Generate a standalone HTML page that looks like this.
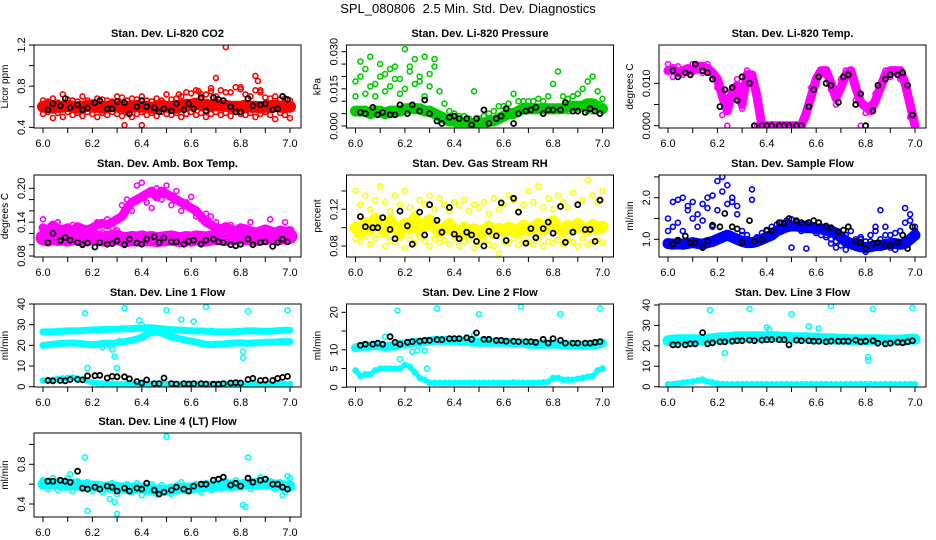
<!DOCTYPE html>
<html><head><meta charset="utf-8"><title>SPL_080806 2.5 Min. Std. Dev. Diagnostics</title>
<style>
html,body{margin:0;padding:0;background:#fff;}
svg{display:block;font-family:"Liberation Sans",Arial,sans-serif;}
</style></head>
<body>
<svg id="chart" width="936" height="540" viewBox="0 0 936 540" xmlns="http://www.w3.org/2000/svg">
<rect x="0" y="0" width="936" height="540" fill="#fff"/>
<text x="468" y="13" text-anchor="middle" font-size="13" style="white-space:pre">SPL_080806  2.5 Min. Std. Dev. Diagnostics</text>
</svg>
<script>
// shared x categories (hours)
const X = [6.00,6.02,6.04,6.06,6.08,6.10,6.12,6.14,6.16,6.18,6.20,6.22,6.24,6.26,6.28,6.30,6.32,6.34,6.36,6.38,6.40,6.42,6.44,6.46,6.48,6.50,6.52,6.54,6.56,6.58,6.60,6.62,6.64,6.66,6.68,6.70,6.72,6.74,6.76,6.78,6.80,6.82,6.84,6.86,6.88,6.90,6.92,6.94,6.96,6.98,7.00];
const BX = [6.02,6.04,6.07,6.09,6.11,6.14,6.16,6.18,6.21,6.23,6.26,6.28,6.30,6.33,6.35,6.38,6.40,6.42,6.45,6.47,6.49,6.52,6.54,6.57,6.59,6.61,6.64,6.66,6.69,6.71,6.73,6.76,6.78,6.80,6.83,6.85,6.88,6.90,6.93,6.95,6.97,6.99];
const xTicks = [6.0,6.1,6.2,6.3,6.4,6.5,6.6,6.7,6.8,6.9,7.0];
const xTickLabels = ["6.0","","6.2","","6.4","","6.6","","6.8","","7.0"];

// CO2
const co2Mid = [0.60,0.61,0.59,0.60,0.60,0.61,0.60,0.59,0.60,0.61,0.60,0.60,0.59,0.60,0.61,0.60,0.60,0.59,0.60,0.61,0.60,0.60,0.59,0.60,0.61,0.60,0.60,0.59,0.61,0.62,0.62,0.63,0.62,0.62,0.61,0.62,0.61,0.61,0.60,0.60,0.60,0.61,0.60,0.60,0.59,0.60,0.60,0.61,0.60,0.60,0.60];
const co2Hi = [0.66,0.65,0.68,0.64,0.72,0.67,0.66,0.65,0.70,0.66,0.64,0.68,0.67,0.66,0.65,0.70,0.69,0.66,0.68,0.67,0.70,0.66,0.65,0.68,0.66,0.72,0.67,0.68,0.70,0.74,0.73,0.76,0.72,0.72,0.75,0.70,0.76,0.74,0.74,0.79,0.77,0.72,0.70,0.76,0.74,0.69,0.68,0.70,0.67,0.68,0.66];
const co2Lo = [0.53,0.55,0.49,0.54,0.50,0.55,0.52,0.54,0.51,0.55,0.53,0.50,0.54,0.52,0.55,0.53,0.51,0.54,0.50,0.53,0.55,0.52,0.54,0.51,0.55,0.53,0.52,0.54,0.50,0.53,0.55,0.52,0.54,0.50,0.53,0.55,0.52,0.54,0.51,0.55,0.53,0.52,0.54,0.50,0.53,0.55,0.52,0.48,0.54,0.52,0.49];
const co2OutX = [6.33,6.40,6.55,6.63,6.68,6.70,6.74,6.80,6.86,6.87,6.88];
const co2OutY = [0.42,0.42,0.72,0.75,0.78,0.88,1.18,0.79,0.90,0.85,0.76];
const co2Black = [0.57,0.63,0.61,0.68,0.59,0.62,0.57,0.59,0.64,0.66,0.58,0.58,0.65,0.64,0.53,0.60,0.66,0.60,0.59,0.55,0.58,0.56,0.63,0.57,0.63,0.58,0.69,0.56,0.69,0.67,0.66,0.60,0.55,0.55,0.68,0.61,0.62,0.63,0.57,0.58,0.70,0.67];

// Pressure
const presMid = [0.006,0.006,0.006,0.005,0.006,0.006,0.005,0.006,0.006,0.006,0.007,0.007,0.007,0.007,0.006,0.006,0.005,0.004,0.003,0.002,0.002,0.001,0.001,0.001,0.001,0.001,0.001,0.002,0.002,0.003,0.004,0.005,0.005,0.006,0.007,0.007,0.007,0.007,0.007,0.007,0.007,0.007,0.007,0.008,0.008,0.008,0.008,0.009,0.009,0.008,0.007];
const presHi = [0.018,0.026,0.013,0.028,0.017,0.025,0.021,0.016,0.024,0.019,0.031,0.022,0.027,0.018,0.028,0.021,0.024,0.014,0.009,0.006,0.005,0.004,0.004,0.003,0.014,0.003,0.004,0.005,0.006,0.008,0.008,0.009,0.013,0.010,0.010,0.010,0.010,0.011,0.010,0.012,0.017,0.022,0.012,0.011,0.012,0.013,0.015,0.018,0.020,0.014,0.011];
const presLo = [0.012,0.020,0.023,0.016,0.012,0.020,0.014,0.023,0.019,0.013,0.015,0.024,0.017,0.020,0.012,0.016,0.027,0.004,0.003,0.002,0.001,0.000,0.000,0.000,0.000,0.000,0.000,0.001,0.002,0.003,0.004,0.005,0.006,0.006,0.007,0.006,0.006,0.007,0.006,0.006,0.006,0.007,0.007,0.006,0.007,0.006,0.007,0.006,0.006,0.007,0.006];
const presBlack = [0.0055,0.005,0.0075,0.0045,0.0055,0.0045,0.0045,0.0085,0.005,0.0085,0.006,0.0105,0.005,0.002,0.001,0.0035,0.004,0.003,0.003,0.0005,0.003,0.0065,0.001,0.003,0.004,0.007,0.001,0.005,0.006,0.0065,0.0075,0.005,0.0065,0.0065,0.0065,0.0095,0.006,0.006,0.0055,0.007,0.006,0.005];

// Li-820 temperature
const tempMid = [0.0130,0.0135,0.0125,0.0130,0.0135,0.0130,0.0140,0.0140,0.0135,0.0125,0.0110,0.0070,0.0035,0.0080,0.0095,0.0050,0.0120,0.0120,0.0070,0.0000,0.0000,0.0000,0.0000,0.0000,0.0000,0.0000,0.0000,0.0000,0.0030,0.0070,0.0110,0.0130,0.0130,0.0100,0.0065,0.0090,0.0120,0.0130,0.0090,0.0055,0.0045,0.0035,0.0060,0.0090,0.0120,0.0130,0.0130,0.0130,0.0100,0.0050,0.0000];
const tempSc = [0.0145,0.0115,0.0140,0.0120,0.0125,0.0145,0.0130,0.0125,0.0145,0.0110,0.0090,0.0025,0.0000,0.0065,0.0110,0.0040,0.0130,0.0100,0.0000,0.0000,0.0000,0.0000,0.0000,0.0000,0.0000,0.0000,0.0000,0.0000,0.0020,0.0090,0.0095,0.0120,0.0120,0.0085,0.0050,0.0110,0.0130,0.0120,0.0060,0.0000,0.0030,0.0050,0.0075,0.0100,0.0130,0.0115,0.0125,0.0110,0.0085,0.0020,0.0000];
const tempBlack = [0.013,0.0115,0.0125,0.012,0.0145,0.013,0.0125,0.011,0.0045,0.0085,0.009,0.006,0.0115,0.010,0.000,0.000,0.000,0.000,0.000,0.000,0.000,0.000,0.000,0.0045,0.0085,0.0115,0.010,0.0095,0.0055,0.0115,0.012,0.005,0.0075,0.000,0.0035,0.0095,0.011,0.012,0.012,0.0125,0.0095,0.0025];

// Ambient box temperature
const boxMid = [0.112,0.110,0.113,0.111,0.112,0.110,0.114,0.112,0.110,0.111,0.113,0.112,0.110,0.111,0.112,0.113,0.110,0.109,0.111,0.110,0.112,0.110,0.111,0.109,0.110,0.111,0.112,0.110,0.109,0.111,0.110,0.112,0.111,0.110,0.112,0.113,0.112,0.111,0.113,0.112,0.114,0.113,0.112,0.111,0.112,0.113,0.114,0.112,0.113,0.114,0.115];
const boxHi = [0.130,0.125,0.135,0.128,0.127,0.130,0.125,0.132,0.128,0.126,0.130,0.135,0.138,0.135,0.140,0.145,0.150,0.165,0.175,0.180,0.185,0.190,0.195,0.185,0.195,0.190,0.185,0.180,0.175,0.170,0.165,0.160,0.150,0.140,0.135,0.130,0.128,0.132,0.128,0.125,0.130,0.128,0.125,0.122,0.125,0.128,0.125,0.122,0.126,0.124,0.125];
const boxSc = [0.145,0.118,0.120,0.140,0.122,0.118,0.135,0.115,0.125,0.105,0.128,0.140,0.122,0.145,0.130,0.125,0.170,0.180,0.160,0.205,0.210,0.175,0.165,0.200,0.180,0.205,0.170,0.195,0.160,0.175,0.185,0.150,0.145,0.155,0.150,0.140,0.125,0.120,0.135,0.118,0.122,0.125,0.140,0.118,0.120,0.120,0.145,0.122,0.118,0.140,0.125];
const boxBlack = [0.104,0.120,0.107,0.113,0.108,0.104,0.100,0.103,0.096,0.104,0.101,0.102,0.107,0.100,0.110,0.103,0.101,0.110,0.114,0.104,0.112,0.105,0.105,0.101,0.106,0.108,0.101,0.108,0.110,0.105,0.104,0.100,0.098,0.101,0.110,0.100,0.104,0.105,0.097,0.104,0.110,0.105];

// Gas stream RH
const rhA = [0.100,0.095,0.105,0.098,0.110,0.102,0.096,0.108,0.100,0.094,0.104,0.099,0.110,0.097,0.103,0.108,0.101,0.095,0.099,0.104,0.097,0.092,0.100,0.095,0.098,0.093,0.097,0.101,0.094,0.099,0.096,0.100,0.098,0.095,0.102,0.097,0.100,0.104,0.098,0.103,0.107,0.100,0.096,0.102,0.098,0.104,0.100,0.097,0.103,0.099,0.101];
const rhB = [0.140,0.125,0.135,0.120,0.130,0.145,0.128,0.118,0.135,0.125,0.140,0.122,0.115,0.130,0.125,0.135,0.120,0.132,0.125,0.118,0.128,0.124,0.130,0.118,0.125,0.122,0.128,0.115,0.132,0.120,0.126,0.135,0.130,0.118,0.125,0.140,0.128,0.145,0.122,0.132,0.120,0.135,0.128,0.122,0.138,0.125,0.130,0.152,0.135,0.128,0.140];
const rhC = [0.088,0.085,0.090,0.082,0.088,0.092,0.080,0.086,0.084,0.089,0.078,0.087,0.083,0.090,0.085,0.080,0.088,0.084,0.086,0.082,0.089,0.080,0.085,0.087,0.078,0.084,0.086,0.082,0.080,0.072,0.085,0.083,0.088,0.081,0.086,0.084,0.082,0.088,0.080,0.085,0.083,0.087,0.082,0.086,0.084,0.080,0.088,0.082,0.085,0.086,0.084];
const rhBlack = [0.112,0.101,0.100,0.100,0.111,0.098,0.088,0.118,0.102,0.082,0.117,0.092,0.125,0.108,0.095,0.122,0.093,0.088,0.095,0.092,0.085,0.080,0.096,0.091,0.127,0.086,0.132,0.117,0.083,0.099,0.089,0.099,0.106,0.094,0.123,0.084,0.095,0.125,0.098,0.098,0.085,0.130];

// Sample flow
const sfMid = [0.90,0.88,0.90,0.88,0.90,0.92,0.90,0.88,0.92,0.95,1.00,1.05,1.10,1.05,1.00,0.95,0.92,0.92,0.95,1.00,1.05,1.10,1.20,1.25,1.30,1.32,1.32,1.30,1.28,1.28,1.25,1.25,1.22,1.20,1.15,1.05,0.95,0.90,0.85,0.82,0.80,0.82,0.85,0.85,0.88,0.90,0.90,0.88,0.90,1.00,1.10];
const sfHi = [1.50,1.90,1.40,2.00,1.70,1.90,1.60,1.85,1.75,2.05,2.40,2.15,2.30,2.00,1.80,1.20,1.10,1.95,1.05,1.15,1.20,1.30,1.35,1.40,1.45,1.48,1.42,1.40,1.38,1.35,1.30,1.20,1.10,1.00,0.95,1.00,1.10,1.20,1.00,1.05,0.95,1.10,1.20,1.70,1.30,1.10,1.15,1.20,1.40,1.60,1.30];
const sfSc = [1.20,1.30,1.95,1.20,1.80,1.50,1.30,1.45,2.00,1.30,1.70,2.50,1.85,1.90,1.60,1.10,1.00,2.20,0.95,1.05,1.00,1.15,1.25,1.20,1.40,0.80,1.35,1.20,0.78,1.22,1.15,1.10,1.05,0.90,0.80,0.85,0.75,0.90,0.95,1.00,0.70,0.95,1.30,1.00,1.10,0.80,0.75,1.20,1.75,1.45,1.20];
const sfBlack = [0.89,0.98,1.08,0.92,0.92,0.80,0.95,1.34,1.30,1.62,1.30,1.25,0.92,1.45,0.95,0.99,1.22,1.20,1.40,1.38,1.50,1.45,1.40,1.40,1.45,1.40,1.32,1.28,1.18,1.22,1.30,0.95,0.92,0.78,0.90,0.92,0.85,0.85,0.93,1.10,0.78,1.30];

// Line 1 flow
const l1Up = [26.5,26.5,26.5,26.7,26.8,27.0,27.0,27.0,27.2,27.3,27.5,27.5,27.6,27.7,27.8,27.8,28.0,28.0,28.0,28.2,28.3,28.5,28.5,28.3,28.0,27.8,27.5,27.5,27.3,27.2,27.0,27.0,27.0,26.8,26.8,26.5,26.5,26.5,26.5,26.7,26.8,27.0,27.0,27.0,26.8,26.8,26.8,27.0,27.2,27.3,27.3];
const l1Mid = [20.0,20.2,20.5,20.8,21.0,21.0,21.2,21.0,20.8,20.5,20.3,20.5,21.0,21.0,21.0,21.3,21.5,22.0,22.5,23.0,24.0,25.5,26.0,26.5,26.0,25.0,24.0,23.5,23.0,22.5,22.0,21.5,21.0,20.5,20.3,20.5,20.5,20.8,21.0,21.2,21.2,21.0,21.0,21.2,21.3,21.5,21.5,21.5,21.7,21.8,21.8];
const l1Low = [3.0,3.2,3.3,3.8,4.0,4.2,4.5,4.0,3.5,3.0,2.0,1.8,1.5,1.5,1.5,1.3,1.3,1.3,1.3,1.3,1.3,1.3,1.3,1.3,1.3,1.3,1.3,1.3,1.3,1.3,1.3,1.3,1.3,1.3,1.3,1.3,1.3,1.3,1.3,1.3,1.3,1.3,1.3,1.3,1.3,1.3,1.3,1.3,1.3,1.3,1.3];
const l1OutX = [6.17,6.18,6.24,6.27,6.28,6.29,6.30,6.31,6.33,6.39,6.40,6.41,6.50,6.56,6.61,6.66,6.81,6.81,6.83,6.99];
const l1OutY = [35.5,9,19,20,18,14.5,9,22,38,32,30,24,37,32.5,31.5,38.5,17,14,36.5,37];
const l1Black = [3.0,2.8,3.0,2.8,3.5,3.5,3.3,5.2,5.3,5.5,4.2,5.0,4.8,4.8,3.8,2.5,1.8,3.3,1.5,1.5,4.2,1.5,1.3,1.5,1.3,1.5,1.5,1.3,1.2,1.2,1.5,1.8,2.0,1.8,3.5,4.0,3.0,3.2,3.0,4.0,4.5,5.0];

// Line 2 flow
const l2Up = [10.5,10.8,11.0,11.0,11.2,11.0,10.8,11.0,11.0,11.5,11.5,11.8,12.0,12.0,12.2,12.3,12.5,12.5,12.5,12.5,12.5,12.3,12.3,12.2,12.0,12.0,12.0,12.0,12.0,12.0,12.0,12.0,11.8,11.8,11.8,11.5,11.5,11.5,11.5,11.5,11.5,11.5,11.3,11.3,11.3,11.2,11.2,11.2,11.2,11.5,11.8];
const l2Low = [4.5,3.0,3.5,3.5,4.5,5.0,5.0,5.0,5.0,5.0,6.0,5.5,4.0,2.5,2.0,1.2,1.2,1.2,1.2,1.2,1.2,1.2,1.2,1.2,1.2,1.2,1.2,1.2,1.2,1.2,1.2,1.2,1.3,1.2,1.2,1.2,1.2,1.2,1.3,1.5,2.5,2.5,2.0,2.0,2.0,2.3,2.5,2.8,3.0,4.5,5.0];
const l2OutX = [6.12,6.17,6.18,6.23,6.25,6.28,6.29,6.33,6.48,6.50,6.67,6.83,6.99];
const l2OutY = [13.5,20.5,7.5,9.5,9.8,9.8,5.0,21,14,19.5,21.5,19.5,21];
const l2Black = [11.2,11.5,11.5,11.8,11.5,13.5,12.0,11.5,12.0,12.2,12.3,12.5,12.5,12.7,12.7,13.0,13.0,13.0,13.2,12.8,14.5,12.8,12.8,12.5,12.5,12.3,12.3,12.2,12.2,12.2,12.0,12.8,11.8,13.0,12.5,11.8,11.8,11.8,11.8,11.8,12.0,12.2];

// Line 3 flow
const l3Up = [22.5,22.8,23.0,23.0,23.0,23.0,23.0,23.0,23.2,23.5,23.8,24.0,24.0,24.2,24.5,24.5,24.5,24.5,24.5,24.5,24.5,24.5,24.5,24.3,24.2,24.0,24.0,24.0,24.0,23.8,23.8,23.5,23.5,23.5,23.3,23.2,23.2,23.0,23.0,23.0,23.0,23.0,23.0,23.0,22.8,22.8,22.8,22.8,23.0,23.2,23.3];
const l3Low = [1.2,1.3,1.5,2.0,2.3,2.5,3.0,3.5,2.5,2.0,1.5,1.3,1.2,1.2,1.2,1.2,1.2,1.2,1.2,1.2,1.2,1.2,1.2,1.2,1.2,1.2,1.2,1.2,1.2,1.2,1.2,1.2,1.2,1.2,1.2,1.2,1.2,1.2,1.2,1.2,1.2,1.2,1.2,1.2,1.2,1.2,1.2,1.2,1.2,1.2,1.2];
const l3OutX = [6.17,6.23,6.33,6.40,6.41,6.50,6.57,6.61,6.66,6.81,6.81,6.83,6.99];
const l3OutY = [37.5,16.5,38,29,28,35.5,29.5,28.5,39.5,14.5,13,38,38.5];
const l3Black = [20.5,20.5,20.5,21.0,21.0,26.5,21.0,21.5,22.0,22.0,22.3,22.5,22.5,22.8,22.5,22.8,23.0,23.0,23.0,23.0,20.5,22.8,22.5,22.5,22.3,22.3,22.0,22.3,22.3,22.3,22.3,22.8,22.0,22.3,22.5,21.3,21.0,21.3,21.8,21.5,22.0,22.5];

// Line 4 (LT) flow
const l4Mid = [0.60,0.61,0.60,0.60,0.59,0.59,0.60,0.59,0.59,0.58,0.58,0.58,0.57,0.57,0.57,0.57,0.56,0.56,0.56,0.56,0.56,0.55,0.55,0.54,0.54,0.54,0.55,0.55,0.56,0.56,0.56,0.57,0.57,0.58,0.58,0.58,0.59,0.59,0.59,0.59,0.59,0.60,0.60,0.60,0.60,0.60,0.60,0.59,0.59,0.58,0.58];
const l4Sc = [0.64,0.55,0.66,0.54,0.62,0.66,0.53,0.63,0.55,0.62,0.53,0.60,0.52,0.58,0.61,0.50,0.58,0.60,0.52,0.61,0.49,0.57,0.60,0.50,0.59,0.56,0.50,0.59,0.62,0.53,0.57,0.60,0.52,0.61,0.54,0.62,0.55,0.63,0.56,0.64,0.57,0.62,0.55,0.63,0.67,0.58,0.63,0.55,0.62,0.52,0.66];
const l4OutX = [6.11,6.17,6.18,6.27,6.29,6.30,6.50,6.81,6.82,6.83,6.97,6.99];
const l4OutY = [0.70,0.87,0.33,0.45,0.42,0.30,1.08,0.39,0.37,0.87,0.49,0.68];
const l4Black = [0.63,0.63,0.64,0.63,0.62,0.73,0.56,0.55,0.57,0.55,0.58,0.57,0.53,0.56,0.53,0.56,0.55,0.61,0.54,0.50,0.52,0.54,0.57,0.55,0.53,0.58,0.60,0.60,0.64,0.65,0.67,0.59,0.61,0.58,0.66,0.62,0.64,0.65,0.60,0.60,0.57,0.55];

const NS = "http://www.w3.org/2000/svg";
const svg = document.getElementById("chart");
const ROWS = [[45,128],[175,257],[304,387],[433,517]];

function mk(tag, parent){ const e = document.createElementNS(NS, tag); parent.appendChild(e); return e; }

function drawPanel(p){
  const x0 = 43 + 312.5*p.col;
  const top = ROWS[p.row][0], bot = ROWS[p.row][1];
  const left = x0 - 9, right = x0 + 258;
  const sx = v => x0 + (v - 6.0) * 247;
  const sy = v => p.p1 + (v - p.v1) * (p.p2 - p.p1) / (p.v2 - p.v1);
  const g = mk("g", svg);
  
  
  const clip = mk("clipPath", g); clip.setAttribute("id", "clip-" + p.name);
  const cr = mk("rect", clip); cr.setAttribute("x", left); cr.setAttribute("y", top); cr.setAttribute("width", right-left); cr.setAttribute("height", bot-top);
  const t = mk("text", g);
  
  
  t.setAttribute("x", (left+right)/2); t.setAttribute("y", top-8); t.setAttribute("text-anchor","middle");
  t.setAttribute("font-size","11"); t.setAttribute("font-weight","bold"); t.textContent = p.title;
  const yt = mk("text", g);
  
  
  const ytx = left - 26, yty = (top+bot)/2;
  yt.setAttribute("transform", "translate(" + ytx + "," + yty + ") rotate(-90)");
  yt.setAttribute("text-anchor","middle"); yt.setAttribute("font-size","10"); yt.textContent = p.ylab;
  const ya = mk("g", g);
  
  
  const yl = mk("line", ya);
  yl.setAttribute("x1", left); yl.setAttribute("x2", left);
  yl.setAttribute("y1", sy(p.yt[0])); yl.setAttribute("y2", sy(p.yt[p.yt.length-1])); yl.setAttribute("stroke","#000");
  p.yt.forEach((v,i)=>{
    const y = sy(v);
    const tk = mk("line", ya); tk.setAttribute("x1", left-5); tk.setAttribute("x2", left); tk.setAttribute("y1", y); tk.setAttribute("y2", y); tk.setAttribute("stroke","#000");
    if (p.yl[i]) {
      const lb = mk("text", ya);
      
      
      lb.setAttribute("transform","translate(" + (left-9) + "," + y + ") rotate(-90)");
      lb.setAttribute("text-anchor","middle"); lb.setAttribute("font-size","11"); lb.textContent = p.yl[i];
    }
  });
  const xa = mk("g", g);
  
  
  const xl = mk("line", xa);
  xl.setAttribute("x1", sx(xTicks[0])); xl.setAttribute("x2", sx(xTicks[xTicks.length-1]));
  xl.setAttribute("y1", bot); xl.setAttribute("y2", bot); xl.setAttribute("stroke","#000");
  xTicks.forEach((v,i)=>{
    const x = sx(v);
    const tk = mk("line", xa); tk.setAttribute("x1", x); tk.setAttribute("x2", x); tk.setAttribute("y1", bot); tk.setAttribute("y2", bot+5); tk.setAttribute("stroke","#000");
    if (xTickLabels[i]) {
      const lb = mk("text", xa);
      
      
      lb.setAttribute("x", x); lb.setAttribute("y", bot+19); lb.setAttribute("text-anchor","middle"); lb.setAttribute("font-size","11");
      lb.textContent = xTickLabels[i];
    }
  });
  const dg = mk("g", g);
  
  
  dg.setAttribute("clip-path", "url(#clip-" + p.name + ")");
  p.series.forEach(s=>{
    if (s.band) {
      const pl = mk("polyline", dg);
      
      
      pl.setAttribute("points", s.xs.map((xv,i)=> sx(xv).toFixed(1) + "," + sy(s.ys[i]).toFixed(1)).join(" "));
      pl.setAttribute("fill","none"); pl.setAttribute("stroke", s.color); pl.setAttribute("stroke-width", s.band);
      pl.setAttribute("stroke-linejoin","round"); pl.setAttribute("stroke-linecap","round");
    }
  });
  p.series.forEach(s=>{
    s.ys.forEach((v,i)=>{
      const c = mk("circle", dg);
      
      
      c.setAttribute("cx", sx(s.xs[i]).toFixed(1)); c.setAttribute("cy", sy(v).toFixed(1)); c.setAttribute("r", 2.5);
      c.setAttribute("fill","none"); c.setAttribute("stroke", s.color); c.setAttribute("stroke-width", s.color === "#000" ? 1.8 : 1.6);
    });
  });
  const bx = mk("rect", g);
  
  
  bx.setAttribute("x", left); bx.setAttribute("y", top); bx.setAttribute("width", right-left); bx.setAttribute("height", bot-top);
  bx.setAttribute("fill","none"); bx.setAttribute("stroke","#000");
}

const RED="#ff0000", GRN="#00cc00", MAG="#ff00ff", YEL="#ffff00", BLU="#0000ff", CYA="#00ffff", BLK="#000";

drawPanel({name:"co2", col:0,row:0,title:"Stan. Dev. Li-820 CO2", ylab:"Licor ppm", v1:0.4,p1:127.3,v2:1.2,p2:45,
  yt:[0.4,0.6,0.8,1.0,1.2], yl:["0.4","","0.8","","1.2"],
  series:[{xs:X,ys:co2Mid,color:RED,band:12},{xs:X,ys:co2Hi,color:RED},{xs:X,ys:co2Lo,color:RED},{xs:co2OutX,ys:co2OutY,color:RED},{xs:BX,ys:co2Black,color:BLK}]});
drawPanel({name:"pressure", col:1,row:0,title:"Stan. Dev. Li-820 Pressure", ylab:"kPa", v1:0,p1:126,v2:0.030,p2:51.7,
  yt:[0,0.005,0.010,0.015,0.020,0.025,0.030], yl:["0.000","","","0.015","","","0.030"],
  series:[{xs:X,ys:presMid,color:GRN,band:11},{xs:X,ys:presHi,color:GRN},{xs:X,ys:presLo,color:GRN},{xs:BX,ys:presBlack,color:BLK}]});
drawPanel({name:"li820-temp", col:2,row:0,title:"Stan. Dev. Li-820 Temp.", ylab:"degrees C", v1:0,p1:125.7,v2:0.010,p2:83.3,
  yt:[0,0.005,0.010], yl:["0.000","","0.010"],
  series:[{xs:X,ys:tempMid,color:MAG,band:9},{xs:X,ys:tempSc,color:MAG},{xs:BX,ys:tempBlack,color:BLK}]});
drawPanel({name:"amb-box-temp", col:0,row:1,title:"Stan. Dev. Amb. Box Temp.", ylab:"degrees C", v1:0.08,p1:256,v2:0.20,p2:188.3,
  yt:[0.08,0.10,0.12,0.14,0.16,0.18,0.20], yl:["0.08","","","0.14","","","0.20"],
  series:[{xs:X,ys:boxMid,color:MAG,band:15},{xs:X,ys:boxHi,color:MAG,band:9},{xs:X,ys:boxSc,color:MAG},{xs:BX,ys:boxBlack,color:BLK}]});
drawPanel({name:"gas-stream-rh", col:1,row:1,title:"Stan. Dev. Gas Stream RH", ylab:"percent", v1:0.08,p1:246,v2:0.12,p2:209.3,
  yt:[0.08,0.10,0.12,0.14], yl:["0.08","","0.12",""],
  series:[{xs:X,ys:rhA,color:YEL,band:12},{xs:X,ys:rhB,color:YEL},{xs:X,ys:rhC,color:YEL},{xs:BX,ys:rhBlack,color:BLK}]});
drawPanel({name:"sample-flow", col:2,row:1,title:"Stan. Dev. Sample Flow", ylab:"ml/min", v1:1.0,p1:239.3,v2:2.0,p2:197.7,
  yt:[1.0,1.5,2.0,2.5], yl:["1.0","","2.0",""],
  series:[{xs:X,ys:sfMid,color:BLU,band:11},{xs:X,ys:sfHi,color:BLU},{xs:X,ys:sfSc,color:BLU},{xs:BX,ys:sfBlack,color:BLK}]});
drawPanel({name:"line1-flow", col:0,row:2,title:"Stan. Dev. Line 1 Flow", ylab:"ml/min", v1:0,p1:386.7,v2:40,p2:304,
  yt:[0,10,20,30,40], yl:["0","10","20","30","40"],
  series:[{xs:X,ys:l1Up,color:CYA,band:7},{xs:X,ys:l1Mid,color:CYA,band:7},{xs:X,ys:l1Low,color:CYA,band:5},{xs:l1OutX,ys:l1OutY,color:CYA},{xs:BX,ys:l1Black,color:BLK}]});
drawPanel({name:"line2-flow", col:1,row:2,title:"Stan. Dev. Line 2 Flow", ylab:"ml/min", v1:0,p1:387.3,v2:20,p2:312.3,
  yt:[0,5,10,15,20], yl:["0","5","10","","20"],
  series:[{xs:X,ys:l2Up,color:CYA,band:9},{xs:X,ys:l2Low,color:CYA,band:5},{xs:l2OutX,ys:l2OutY,color:CYA},{xs:BX,ys:l2Black,color:BLK}]});
drawPanel({name:"line3-flow", col:2,row:2,title:"Stan. Dev. Line 3 Flow", ylab:"ml/min", v1:0,p1:386.7,v2:40,p2:305,
  yt:[0,10,20,30,40], yl:["0","10","20","30","40"],
  series:[{xs:X,ys:l3Up,color:CYA,band:11},{xs:X,ys:l3Low,color:CYA,band:5},{xs:l3OutX,ys:l3OutY,color:CYA},{xs:BX,ys:l3Black,color:BLK}]});
drawPanel({name:"line4-flow", col:0,row:3,title:"Stan. Dev. Line 4 (LT) Flow", ylab:"ml/min", v1:0.4,p1:504,v2:0.8,p2:464.3,
  yt:[0.4,0.6,0.8,1.0], yl:["0.4","","0.8",""],
  series:[{xs:X,ys:l4Mid,color:CYA,band:11},{xs:X,ys:l4Sc,color:CYA},{xs:l4OutX,ys:l4OutY,color:CYA},{xs:BX,ys:l4Black,color:BLK}]});
</script>
</body></html>
